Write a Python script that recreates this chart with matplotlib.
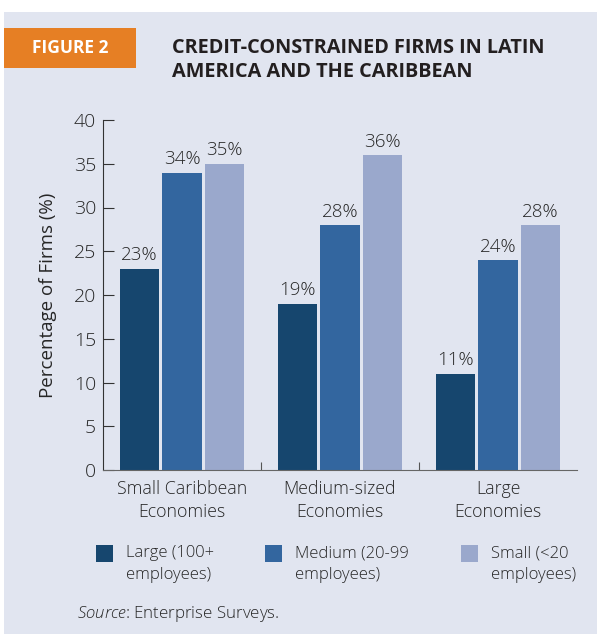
import matplotlib.pyplot as plt
from matplotlib.patches import Rectangle
import numpy as np

plt.rcParams['font.family'] = ['Open Sans', 'DejaVu Sans']
plt.rcParams['font.weight'] = 'light'
plt.rcParams['mathtext.fontset'] = 'custom'
plt.rcParams['mathtext.it'] = 'Open Sans:italic:light'
plt.rcParams['mathtext.rm'] = 'Open Sans:light'

categories = ['Small Caribbean\nEconomies', 'Medium-sized\nEconomies', 'Large\nEconomies']
series_names = ['Large (100+\nemployees)', 'Medium (20-99\nemployees)', 'Small (<20\nemployees)']
large = [23, 19, 11]
medium = [34, 28, 24]
small = [35, 36, 28]
yticks = [0, 5, 10, 15, 20, 25, 30, 35, 40]

bg = '#e1e5f0'
colors = ['#16466e', '#33669f', '#9aa8cc']
txt = '#262626'

fig = plt.figure(figsize=(5.97, 6.34), dpi=100)
fig.patch.set_facecolor('white')
# panel background
fig.patches.append(Rectangle((4/597, 0), 593/597, 1 - 12/634, transform=fig.transFigure,
                             facecolor=bg, edgecolor='none', zorder=-5))
# orange label box
fig.patches.append(Rectangle((4/597, 1 - 68/634), 132/597, 40/634, transform=fig.transFigure,
                             facecolor='#e67f24', edgecolor='none', zorder=-4))
fig.text(70/597, 1 - 48/634, 'FIGURE 2', color='white', fontsize=12.5, fontweight='bold',
         ha='center', va='center')
fig.text(172/597, 1 - 60/634, 'CREDIT-CONSTRAINED FIRMS IN LATIN\nAMERICA AND THE CARIBBEAN',
         color='#231f20', fontsize=14.3, fontweight='bold', ha='left', va='center', linespacing=1.25)

ax = fig.add_axes([103/597, 1 - 470/634, 474/597, 350/634])
ax.set_zorder(2)
ax.set_facecolor(bg)

x = np.arange(len(categories)) + 0.5
w = 0.25
step = 0.268
for i, vals in enumerate([large, medium, small]):
    xs = x + (i - 1) * step
    ax.bar(xs, vals, width=w, color=colors[i], label=series_names[i])
    for xi, v in zip(xs, vals):
        ax.text(xi, v + 0.5, f'{v}%', ha='center', va='bottom', fontsize=13.5, color=txt)

ax.set_xlim(0, 3)
ax.set_ylim(0, 40)
ax.set_yticks(yticks)
ax.set_xticks([1, 2])
ax.set_xticklabels([])
ax.set_xticks(x, minor=True)
ax.set_xticklabels(categories, minor=True, fontsize=12.8, color=txt, linespacing=1.4)
ax.tick_params(axis='x', which='minor', length=0, pad=7)
ax.tick_params(axis='x', which='major', direction='in', length=6, color='#555555')
ax.tick_params(axis='y', direction='in', length=8, color='#333333', labelsize=14,
               labelcolor=txt, pad=5)
for s in ['top', 'right']:
    ax.spines[s].set_visible(False)
ax.spines['left'].set_color('#333333')
ax.spines['bottom'].set_color('#666666')
ax.set_ylabel('Percentage of Firms (%)', fontsize=13.5, color=txt, labelpad=12)

# legend drawn manually
leg_x = [96, 265, 461]
for lx, c, name in zip(leg_x, colors, series_names):
    fig.patches.append(Rectangle((lx/597, 1 - 562/634), 17/597, 17/634, transform=fig.transFigure,
                                 facecolor=c, edgecolor='none', zorder=1))
    fig.text((lx + 30)/597, 1 - 564/634, name, fontsize=12, color=txt, ha='left', va='center',
             linespacing=1.45)

fig.text(77/597, 1 - 614/634, r'$\it{Source}$: Enterprise Surveys.', fontsize=12.2, color=txt,
         ha='left', va='center')
fig.savefig('out.png', dpi=100, facecolor=fig.get_facecolor())
